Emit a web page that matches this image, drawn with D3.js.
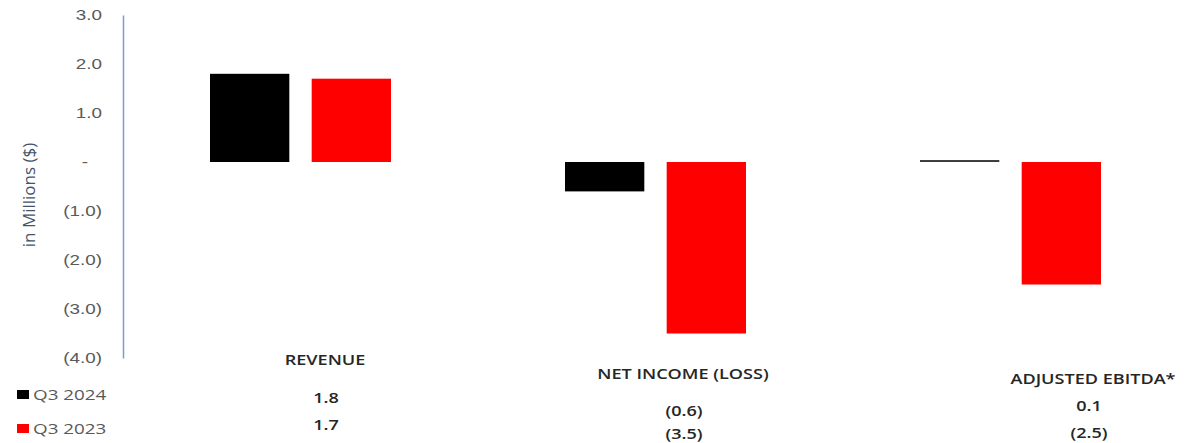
<!DOCTYPE html>
<html>
<head>
<meta charset="utf-8">
<script src="https://cdn.jsdelivr.net/npm/d3@7"></script>
<style>
  body { margin: 0; background: #fff; }
  svg { display: block; font-family: "Open Sans", Lato, sans-serif; }
</style>
</head>
<body>
<svg id="chart" width="1188" height="443"></svg>
<script>
// chart values (in millions)
const categories = ['REVENUE', 'NET INCOME (LOSS)', 'ADJUSTED EBITDA*'];
const seriesNames = ['Q3 2024', 'Q3 2023'];
const q32024 = [1.8, -0.6, 0.04];
const q32023 = [1.7, -3.5, -2.5];
// numbers printed in the data table under the chart
const q32024Labels = ['1.8', '(0.6)', '0.1'];
const q32023Labels = ['1.7', '(3.5)', '(2.5)'];
const yTicks = [3, 2, 1, 0, -1, -2, -3, -4];
const colors = ['#000000', '#ff0000'];

const width = 1188;
const height = 443;
const stretch = 1.3; // the source picture is stretched sideways

const svg = d3.select('#chart');

const x = d3.scaleBand()
    .domain(categories)
    .range([123, 1188])
    .paddingInner(0)
    .paddingOuter(0);

const y = d3.scaleLinear()
    .domain([-4, 3])
    .range([358, 15]);

// inner scale for the two bars of a group
const inner = d3.scaleBand()
    .domain(seriesNames)
    .range([87, x.bandwidth() - 87])
    .paddingInner(0.22);

const fmt = v => v === 0 ? '-' : (v < 0 ? '(' + Math.abs(v).toFixed(1) + ')' : v.toFixed(1));

// y axis
const yAxis = d3.axisLeft(y)
    .tickValues(yTicks)
    .tickSize(0)
    .tickPadding(20)
    .tickFormat(fmt);

const gy = svg.append('g')
    .attr('transform', 'translate(123,0)')
    .call(yAxis);
gy.select('.domain').attr('stroke', '#7b9bd4').attr('stroke-width', 1.5);
gy.selectAll('.tick text')
    .attr('x', 0)
    .attr('transform', d => `translate(${d === 0 ? -35 : -21},0) scale(${stretch},1)`)
    .attr('fill', '#595959')
    .style('font-size', '14.5px');

svg.append('text')
    .attr('transform', 'translate(35,195) rotate(-90)')
    .attr('text-anchor', 'middle')
    .attr('fill', '#44546a')
    .style('font-size', '17px')
    .text('in Millions ($)');

// bars
const series = [q32024, q32023];
series.forEach((vals, si) => {
    svg.append('g')
        .selectAll('rect')
        .data(vals)
        .join('rect')
        .attr('x', (d, i) => x(categories[i]) + inner(seriesNames[si]))
        .attr('width', inner.bandwidth())
        .attr('y', d => y(Math.max(0, d)))
        .attr('height', d => Math.abs(y(d) - y(0)))
        .attr('fill', colors[si]);
});
// tiny EBITDA bar is drawn in a softer dark grey like the reference
svg.selectAll('rect').filter(d => Math.abs(d) < 0.1).attr('fill', '#3a3a3a');

// data table (x offsets from each category centre, y absolute)
const tableLayout = [
    { head: [24.5, 359], r1: [25.5, 397], r2: [25.5, 424] },
    { head: [27.5, 373], r1: [28.5, 410], r2: [28.5, 433] },
    { head: [82.5, 378], r1: [78.5, 405], r2: [78.5, 432] }
];

const table = svg.append('g')
    .attr('fill', '#262626')
    .style('font-size', '14.5px')
    .style('font-weight', 600)
    .attr('text-anchor', 'middle')
    .attr('dominant-baseline', 'central');

const putText = (g, px, py, t) => g.append('text')
    .attr('transform', `translate(${px},${py}) scale(${stretch * 0.96},1)`)
    .text(t);

categories.forEach((c, i) => {
    const cx = x(c) + x.bandwidth() / 2;
    const L = tableLayout[i];
    putText(table, cx + L.head[0], L.head[1], c);
    putText(table, cx + L.r1[0], L.r1[1], q32024Labels[i]);
    putText(table, cx + L.r2[0], L.r2[1], q32023Labels[i]);
});

// legend keys at left of the table
const legendY = [394, 428];
const legend = svg.append('g');
seriesNames.forEach((s, i) => {
    legend.append('rect')
        .attr('x', 17).attr('y', legendY[i] - 4)
        .attr('width', 12).attr('height', 9)
        .attr('fill', colors[i]);
    legend.append('text')
        .attr('transform', `translate(33,${legendY[i]}) scale(${stretch},1)`)
        .attr('dominant-baseline', 'central')
        .attr('fill', '#595959')
        .style('font-size', '14.5px')
        .text(s);
});
</script>
</body>
</html>
